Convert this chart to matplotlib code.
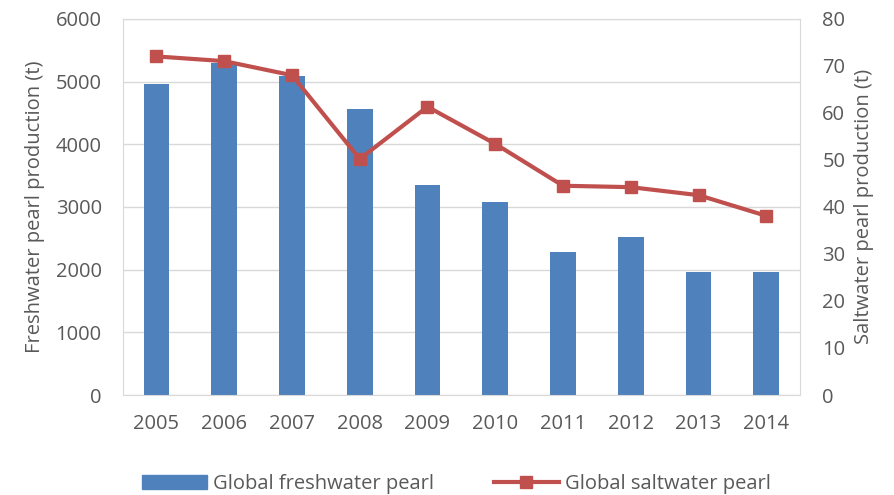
import numpy as np
import matplotlib.pyplot as plt
from matplotlib.lines import Line2D
from matplotlib.patches import Patch

years = ["2005", "2006", "2007", "2008", "2009", "2010", "2011", "2012", "2013", "2014"]
freshwater = [4960, 5300, 5090, 4560, 3350, 3080, 2280, 2520, 1960, 1960]
saltwater = [72, 71, 68, 50.2, 61.3, 53.4, 44.5, 44.2, 42.5, 38.1]

plt.rcParams['font.family'] = ['Open Sans', 'DejaVu Sans']
text_col = "#595959"
blue = "#4F81BD"
red = "#C0504D"
fs = 14.5

fig = plt.figure(figsize=(8.95, 4.95), dpi=100)
ax = fig.add_axes([0.137, 0.202, 0.757, 0.760])
x = np.arange(len(years))

ax.bar(x, freshwater, width=0.38, color=blue, zorder=2)
ax.set_ylim(0, 6000)
ax.set_yticks(range(0, 6001, 1000))
ax.set_xlim(-0.5, len(years) - 0.5)
ax.set_xticks(x)
ax.set_xticklabels(years)
ax.grid(axis="y", color="#d9d9d9", linewidth=1, zorder=0)
for s in ax.spines.values():
    s.set_color("#d9d9d9")
ax.tick_params(length=0, colors=text_col, labelsize=fs)
ax.tick_params(axis="x", pad=14)
ax.tick_params(axis="y", pad=15)
ax.set_ylabel("Freshwater pearl production (t)", color=text_col, fontsize=fs, labelpad=8)

ax2 = ax.twinx()
ax2.plot(x, saltwater, color=red, linewidth=3, marker="s", markersize=9, zorder=3)
ax2.set_ylim(0, 80)
ax2.set_yticks(range(0, 81, 10))
for s in ax2.spines.values():
    s.set_visible(False)
ax2.tick_params(length=0, colors=text_col, labelsize=fs, pad=16)
ax2.set_ylabel("Saltwater pearl production (t)", color=text_col, fontsize=fs, labelpad=6)

handles = [Patch(color=blue), Line2D([], [], color=red, linewidth=3, marker="s", markersize=9)]
fig.legend(handles, ["Global freshwater pearl", "Global saltwater pearl"],
           loc="lower center", bbox_to_anchor=(0.51, -0.035), ncol=2, frameon=False,
           fontsize=fs, labelcolor=text_col, handlelength=3.2, columnspacing=3.0,
           handletextpad=0.3)

fig.savefig("out.png", dpi=100)
